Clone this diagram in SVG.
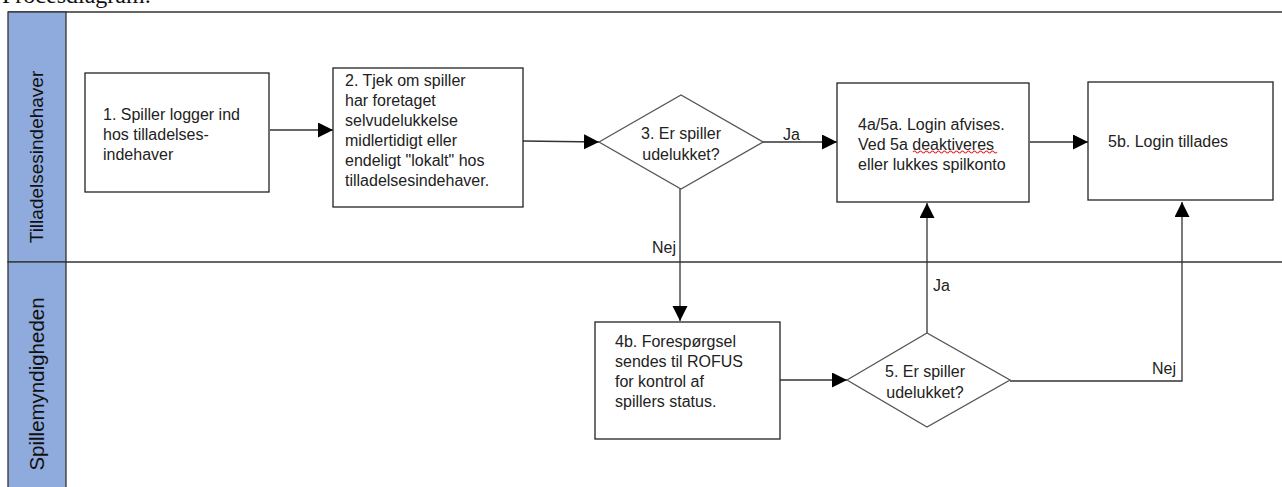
<svg xmlns="http://www.w3.org/2000/svg" width="1282" height="487" viewBox="0 0 1282 487">
<style>
.t{font-family:"Liberation Sans",Arial,sans-serif;font-size:16px;fill:#222}
.lane{font-family:"Liberation Sans",Arial,sans-serif;font-size:19px;fill:#111}
.box{fill:#fff;stroke:#222;stroke-width:1.3}
.dia{fill:#fff;stroke:#555;stroke-width:1.3}
.ln{fill:none;stroke:#333;stroke-width:1.3}
.hdr{fill:#8FAADC;stroke:#333;stroke-width:1.3}
</style>
<defs>
<marker id="ah" markerUnits="userSpaceOnUse" markerWidth="16" markerHeight="16" refX="15" refY="7.5" orient="auto">
<path d="M0,0 L15,7.5 L0,15 Z" fill="#000"/>
</marker>
</defs>
<rect width="1282" height="487" fill="#fff"/>
<text x="2" y="3" style="font-family:'Liberation Serif','Times New Roman',serif;font-size:24px;fill:#111">Procesdiagram:</text>
<g id="lanes">
<line class="ln" x1="8" y1="12" x2="1282" y2="12"/>
<line class="ln" x1="8" y1="262" x2="1282" y2="262"/>
<rect class="hdr" x="8" y="12" width="58" height="250"/>
<rect class="hdr" x="8" y="262" width="58" height="240"/>
<text class="lane" transform="translate(43,157) rotate(-90)" text-anchor="middle">Tilladelsesindehaver</text>
<text class="lane" transform="translate(44,384) rotate(-90)" text-anchor="middle" style="font-size:20.5px">Spillemyndigheden</text>
</g>
<g id="connectors">
<line class="ln" x1="270" y1="130" x2="333" y2="130" marker-end="url(#ah)"/>
<line class="ln" x1="523" y1="141" x2="599" y2="142" marker-end="url(#ah)"/>
<line class="ln" x1="763" y1="142" x2="837" y2="142" marker-end="url(#ah)"/>
<text class="t" x="783" y="140">Ja</text>
<line class="ln" x1="1030" y1="142" x2="1088" y2="142" marker-end="url(#ah)"/>
<line class="ln" x1="680" y1="189" x2="680" y2="321" marker-end="url(#ah)"/>
<text class="t" x="676" y="253" text-anchor="end">Nej</text>
<line class="ln" x1="780" y1="380" x2="847" y2="380" marker-end="url(#ah)"/>
<line class="ln" x1="927" y1="333" x2="927" y2="203" marker-end="url(#ah)"/>
<text class="t" x="933" y="291">Ja</text>
<polyline class="ln" points="1010,381 1182,381 1182,202" marker-end="url(#ah)"/>
<text class="t" x="1176" y="374" text-anchor="end">Nej</text>
</g>
<g id="n1">
<rect class="box" x="85" y="73" width="184" height="119"/>
<text class="t" x="103" y="120">1. Spiller logger ind</text>
<text class="t" x="103" y="140">hos tilladelses-</text>
<text class="t" x="103" y="160">indehaver</text>
</g>
<g id="n2">
<rect class="box" x="333" y="68" width="190" height="139"/>
<text class="t" x="345" y="86">2. Tjek om spiller</text>
<text class="t" x="345" y="106">har foretaget</text>
<text class="t" x="345" y="126">selvudelukkelse</text>
<text class="t" x="345" y="146">midlertidigt eller</text>
<text class="t" x="345" y="166">endeligt "lokalt" hos</text>
<text class="t" x="345" y="186">tilladelsesindehaver.</text>
</g>
<g id="n3">
<polygon class="dia" points="599,142 681,95 763,142 681,189"/>
<text class="t" x="681" y="139" text-anchor="middle">3. Er spiller</text>
<text class="t" x="681" y="160" text-anchor="middle">udelukket?</text>
</g>
<g id="n4a">
<rect class="box" x="837" y="83" width="192" height="119"/>
<text class="t" x="858" y="130">4a/5a. Login afvises.</text>
<text class="t" x="858" y="150">Ved 5a deaktiveres</text>
<text class="t" x="858" y="170">eller lukkes spilkonto</text>
<path d="M913,152 q1.5,-2 3,0 t3,0 t3,0 t3,0 t3,0 t3,0 t3,0 t3,0 t3,0 t3,0 t3,0 t3,0 t3,0 t3,0 t3,0 t3,0 t3,0 t3,0 t3,0 t3,0 t3,0 t3,0 t3,0 t3,0 t3,0 t3,0 t3,0 t3,0" fill="none" stroke="#e03030" stroke-width="1.2"/>
</g>
<g id="n5b">
<rect class="box" x="1088" y="82" width="185" height="118"/>
<text class="t" x="1108" y="147">5b. Login tillades</text>
</g>
<g id="n4b">
<rect class="box" x="595" y="322" width="185" height="117"/>
<text class="t" x="615" y="347">4b. Forespørgsel</text>
<text class="t" x="615" y="367">sendes til ROFUS</text>
<text class="t" x="615" y="387">for kontrol af</text>
<text class="t" x="615" y="407">spillers status.</text>
</g>
<g id="n5">
<polygon class="dia" points="847,380 927,333 1010,380 927,427"/>
<text class="t" x="925" y="377" text-anchor="middle">5. Er spiller</text>
<text class="t" x="925" y="398" text-anchor="middle">udelukket?</text>
</g>
</svg>
